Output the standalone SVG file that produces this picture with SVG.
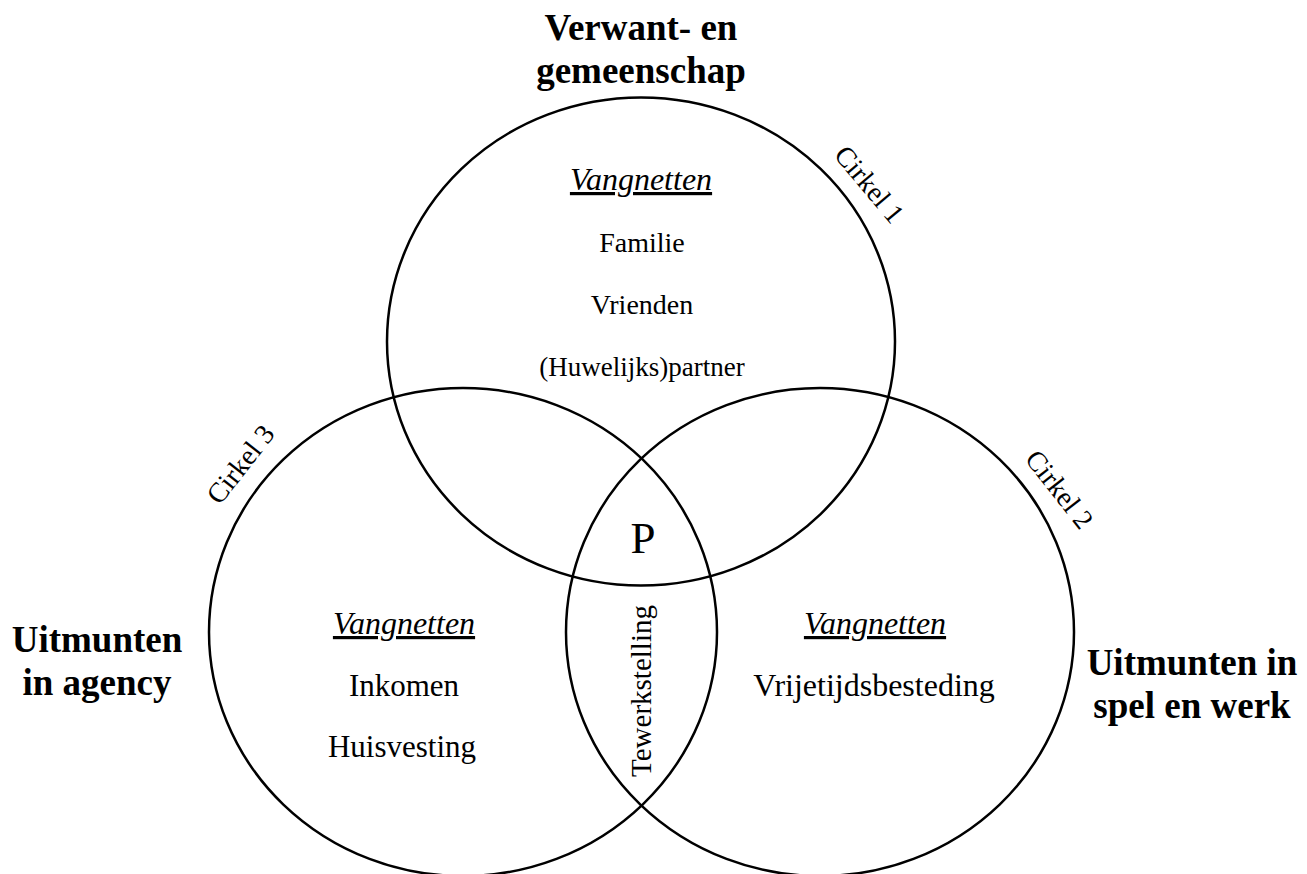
<svg xmlns="http://www.w3.org/2000/svg" width="1307" height="874" viewBox="0 0 1307 874">
<style>
.c{fill:none;stroke:#000;stroke-width:2.5}
.h{font-family:"Liberation Serif","Times New Roman",serif;font-weight:bold;font-size:37px;text-anchor:middle;fill:#000}
.t{font-family:"Liberation Serif","Times New Roman",serif;font-size:28px;text-anchor:middle;fill:#000}
.v{font-style:italic;text-decoration:underline;font-size:32px}
.b{font-size:31px}
</style>
<rect width="1307" height="874" fill="#fff"/>
<g id="circle1">
<ellipse class="c" cx="641" cy="341.5" rx="254" ry="244"/>
<text class="t" transform="translate(870,184) rotate(50)" y="10">Cirkel 1</text>
<text class="t v" x="641" y="190">Vangnetten</text>
<text class="t" x="642" y="252">Familie</text>
<text class="t" x="642" y="314">Vrienden</text>
<text class="t" x="642" y="376" style="font-size:27px">(Huwelijks)partner</text>
</g>
<g id="circle2">
<ellipse class="c" cx="820" cy="632" rx="254" ry="244"/>
<text class="t" transform="translate(1060,489) rotate(52)" y="10">Cirkel 2</text>
<text class="t v" x="875" y="634">Vangnetten</text>
<text class="t" x="874" y="696" style="font-size:32px">Vrijetijdsbesteding</text>
</g>
<g id="circle3">
<ellipse class="c" cx="463" cy="632" rx="254" ry="244"/>
<text class="t" transform="translate(240,464) rotate(-52)" y="10">Cirkel 3</text>
<text class="t v" x="404" y="634">Vangnetten</text>
<text class="t b" x="404" y="696">Inkomen</text>
<text class="t b" x="402" y="757">Huisvesting</text>
</g>
<g id="center">
<text class="t" x="643" y="553" style="font-size:45px">P</text>
<text class="t" transform="translate(641,691) rotate(-90)" y="10" style="font-size:29px">Tewerkstelling</text>
</g>
<g id="label-top">
<text class="h" x="641" y="40">Verwant- en</text>
<text class="h" x="641" y="83">gemeenschap</text>
</g>
<g id="label-left">
<text class="h" x="97" y="652">Uitmunten</text>
<text class="h" x="97" y="695">in agency</text>
</g>
<g id="label-right">
<text class="h" x="1192" y="675">Uitmunten in</text>
<text class="h" x="1192" y="718">spel en werk</text>
</g>
<g id="connectors"/>
</svg>
